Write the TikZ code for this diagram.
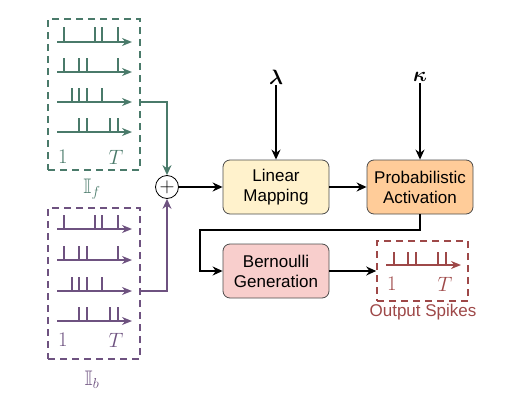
\documentclass[tikz,border=0pt]{standalone}
\usepackage{amsmath,amssymb,bm}
\usepackage{fontspec}
\setsansfont{Liberation Sans}
\usetikzlibrary{arrows.meta}

\definecolor{fcol}{RGB}{74,122,106}
\definecolor{bcol}{RGB}{110,82,128}
\definecolor{ocol}{RGB}{158,72,72}
\definecolor{linfill}{RGB}{255,242,204}
\definecolor{probfill}{RGB}{255,204,153}
\definecolor{bernfill}{RGB}{248,206,204}

\begin{document}
\begin{tikzpicture}[x=1pt,y=1pt,yscale=-1,xscale=1,
    block/.style={draw=black!70, line width=0.8pt, rounded corners=7pt, minimum width=106pt, minimum height=54pt, align=center, font=\sffamily\fontsize{17}{20}\selectfont},
    dbox/.style={line width=1.6pt, dash pattern=on 7pt off 5pt},
    train/.style={line width=1.6pt, -{Stealth[length=10pt,width=8pt]}},
    spike/.style={line width=1.6pt},
    conn/.style={line width=1.4pt, -{Stealth[length=10pt,width=9pt]}},
    lbl/.style={inner sep=1pt, font=\fontsize{21}{24}\selectfont}]
    \useasboundingbox (0,0) rectangle (514,407);
    %Shape: Dashed Rectangle [id:fbox]
    \node (fbox) [dbox, draw=fcol, minimum width=92pt, minimum height=151pt] at (94,94.5) {};
    %Spike trains f
    \draw [train, fcol] (57,42) -- (132,42);
    \draw [spike, fcol] (64,42) -- (64,27) (95,42) -- (95,27) (102,42) -- (102,27) (118,42) -- (118,27);
    \draw [train, fcol] (57,72) -- (132,72);
    \draw [spike, fcol] (64,72) -- (64,58) (79,72) -- (79,58) (87,72) -- (87,58) (118,72) -- (118,58);
    \draw [train, fcol] (57,102) -- (132,102);
    \draw [spike, fcol] (72,102) -- (72,88) (79,102) -- (79,88) (87,102) -- (87,88) (102,102) -- (102,88);
    \draw [train, fcol] (57,132) -- (132,132);
    \draw [spike, fcol] (79,132) -- (79,118) (87,132) -- (87,118) (110,132) -- (110,118) (118,132) -- (118,118);
    % Text Node
    \node (fone) [lbl, text=fcol] at (63,157) {$1$};
    \node (fT) [lbl, text=fcol] at (116,157) {$T$};
    \node (flab) [lbl, text=fcol] at (92,189) {$\mathbb{I}_f$};
    %Shape: Dashed Rectangle [id:bbox]
    \node (bbox) [dbox, draw=bcol, minimum width=92pt, minimum height=151pt] at (94,283.5) {};
    %Spike trains b
    \draw [train, bcol] (57,229) -- (132,229);
    \draw [spike, bcol] (64,229) -- (64,215) (95,229) -- (95,215) (102,229) -- (102,215) (118,229) -- (118,215);
    \draw [train, bcol] (57,260) -- (132,260);
    \draw [spike, bcol] (64,260) -- (64,246) (79,260) -- (79,246) (87,260) -- (87,246) (118,260) -- (118,246);
    \draw [train, bcol] (57,291) -- (132,291);
    \draw [spike, bcol] (72,291) -- (72,277) (79,291) -- (79,277) (87,291) -- (87,277) (102,291) -- (102,277);
    \draw [train, bcol] (57,321) -- (132,321);
    \draw [spike, bcol] (79,321) -- (79,307) (87,321) -- (87,307) (110,321) -- (110,307) (118,321) -- (118,307);
    % Text Node
    \node (bone) [lbl, text=bcol] at (63,340) {$1$};
    \node (bT) [lbl, text=bcol] at (116,340) {$T$};
    \node (blab) [lbl, text=bcol] at (92,380) {$\mathbb{I}_b$};
    %Shape: Sum
    \node (sum) [circle, draw, line width=0.8pt, inner sep=0pt, minimum size=23pt, fill=white, font=\fontsize{21}{24}\selectfont] at (167,187) {$+$};
    %Shape: Rounded Rectangles
    \node (lin) [block, fill=linfill] at (276,187) {Linear\\Mapping};
    \node (prob) [block, fill=probfill] at (420,187) {Probabilistic\\Activation};
    \node (bern) [block, fill=bernfill] at (276,271) {Bernoulli\\Generation};
    % Text Node
    \node (lam) [lbl, inner sep=1pt] at (276,77) {$\boldsymbol{\lambda}$};
    \node (kap) [lbl, inner sep=1pt] at (420,77) {$\boldsymbol{\kappa}$};
    %Shape: Dashed Rectangle [id:obox]
    \node (obox) [dbox, draw=ocol, minimum width=91pt, minimum height=60pt] at (422.5,271) {};
    \draw [train, ocol] (386,265) -- (461,265);
    \draw [spike, ocol] (394,265) -- (394,252) (408,265) -- (408,252) (416,265) -- (416,252) (438,265) -- (438,252) (446,265) -- (446,252);
    \node (oone) [lbl, text=ocol] at (392,284) {$1$};
    \node (oT) [lbl, text=ocol] at (445,284) {$T$};
    \node (olab) [lbl, text=ocol, font=\sffamily\fontsize{17}{20}\selectfont] at (423,312) {Output Spikes};
    %Connectors
    \coordinate (fout) at (140,102);
    \coordinate (bout) at (140,291);
    \coordinate (turn) at (200,230);
    \draw [conn, fcol] (fout) -| (sum.north);
    \draw [conn, bcol] (bout) -| (sum.south);
    \draw [conn] (sum.east) -- (lin.west);
    \draw [conn] (lin.east) -- (prob.west);
    \draw [conn] (lam.south) -- (lin.north);
    \draw [conn] (kap.south) -- (prob.north);
    \draw [conn] (prob.south) |- (turn) |- (bern.west);
    \draw [conn] (bern.east) -- (obox.west);
\end{tikzpicture}
\end{document}
